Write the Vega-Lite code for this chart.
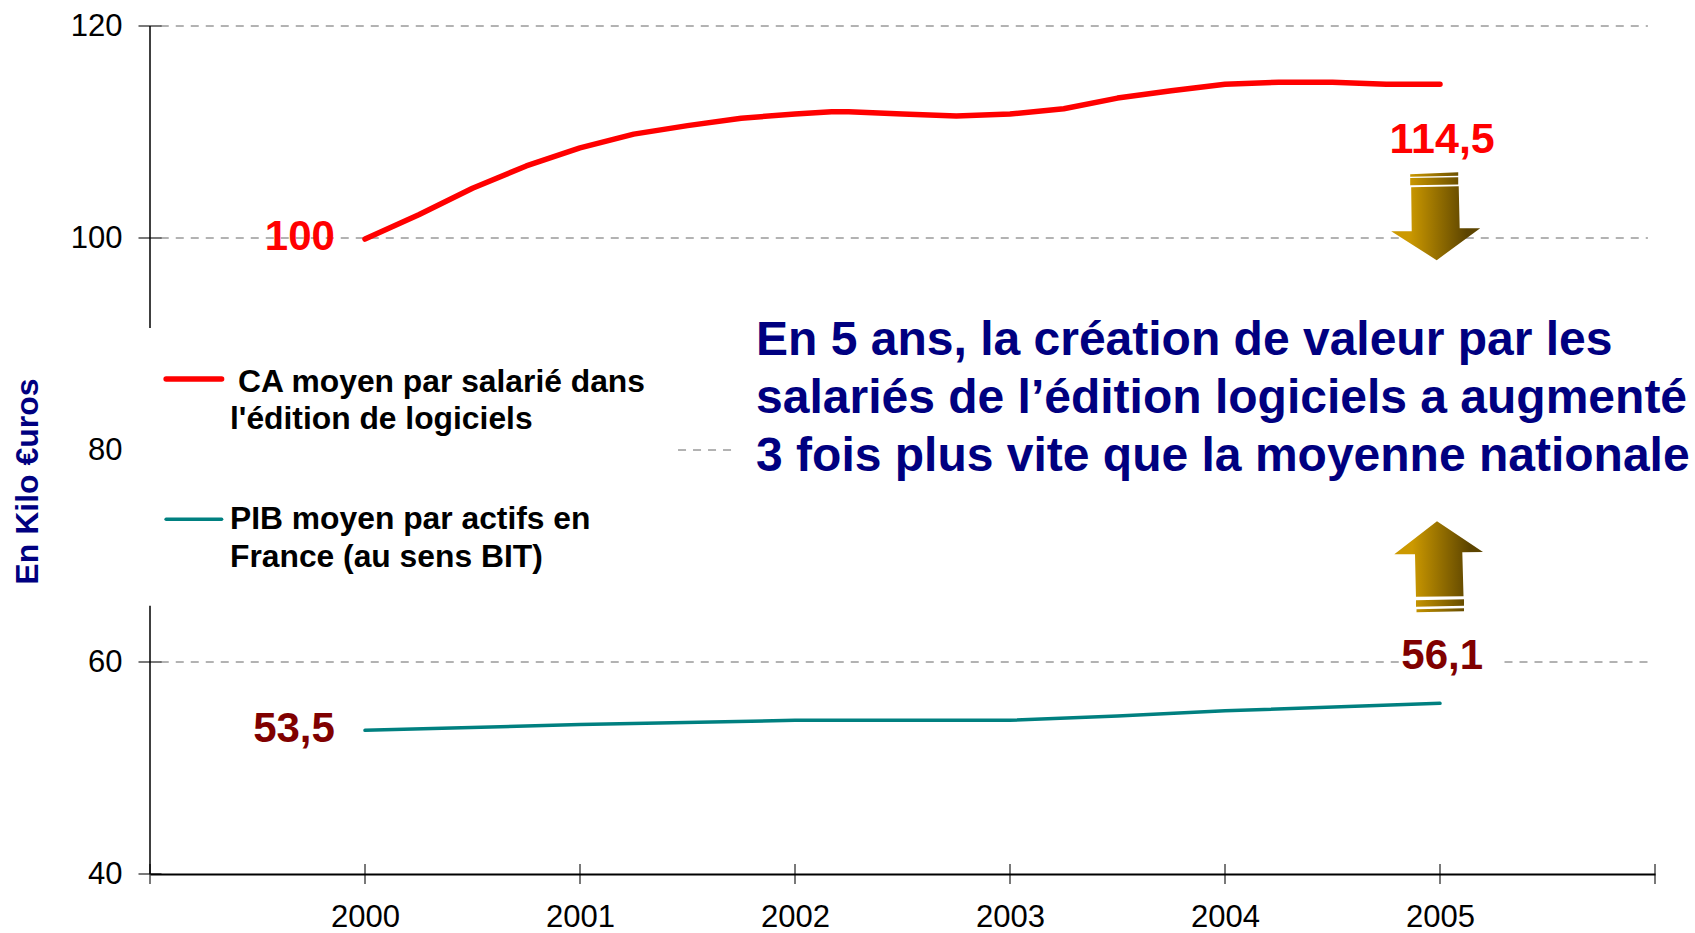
{"$schema":"https://vega.github.io/schema/vega-lite/v6.json","autosize":{"type":"none"},"padding":{"left":150,"top":26,"right":40,"bottom":59},"width":1505,"height":848,"background":"white","config":{"view":{"stroke":null},"text":{"font":"Liberation Sans"}},
"encoding":{"x":{"field":"year","type":"quantitative","title":null,"scale":{"domain":[1999,2006],"nice":false,"zero":false},"axis":{"values":[2000,2001,2002,2003,2004,2005],"format":"d","grid":false,"ticks":false,"domain":true,"domainColor":"#000","domainWidth":2,"labelFont":"Liberation Sans","labelFontSize":31,"labelColor":"#000","labelPadding":28,"labelFlush":false}},
"y":{"field":"value","type":"quantitative","title":"En Kilo €uros","scale":{"domain":[40,120],"nice":false,"zero":false},"axis":{"values":[40,60,80,100,120],"grid":false,"ticks":false,"domain":false,"labelFont":"Liberation Sans","labelFontSize":31,"labelColor":"#000","labelPadding":28,"titleFont":"Liberation Sans","titleFontWeight":"bold","titleFontSize":32,"titleColor":"#000080","titleAngle":270,"titleX":-123,"titleY":455,"titleAlign":"center","titleBaseline":"middle"}}},
"layer":[
{"data":{"values":[{"year":1999.05,"x2":2005.967,"value":120},{"year":1999.05,"x2":2005.967,"value":100},{"year":2001.456,"x2":2001.72,"value":80},{"year":1999.05,"x2":2004.86,"value":60},{"year":2005.3,"x2":2005.967,"value":60}]},"mark":{"type":"rule","color":"#666666","strokeWidth":1,"strokeDash":[8,7]},"encoding":{"x2":{"field":"x2"}}},
{"data":{"values":[{"year":1999,"value":120,"y2":91.5},{"year":1999,"value":65.3,"y2":40}]},"mark":{"type":"rule","color":"#000","strokeWidth":1.5},"encoding":{"y2":{"field":"y2"}}},
{"data":{"values":[{"year":1999,"value":40},{"year":1999,"value":60},{"year":1999,"value":100},{"year":1999,"value":120}]},"mark":{"type":"tick","orient":"horizontal","size":23,"thickness":1.5,"color":"#000"}},
{"data":{"values":[{"year":1999,"value":40},{"year":2000,"value":40},{"year":2001,"value":40},{"year":2002,"value":40},{"year":2003,"value":40},{"year":2004,"value":40},{"year":2005,"value":40},{"year":2006,"value":40}]},"mark":{"type":"tick","orient":"vertical","size":20,"thickness":1.5,"color":"#000"}},
{"data":{"values":[{"year":2000,"value":99.9},{"year":2000.25,"value":102.2},{"year":2000.5,"value":104.7},{"year":2000.75,"value":106.8},{"year":2001,"value":108.5},{"year":2001.25,"value":109.8},{"year":2001.5,"value":110.6},{"year":2001.75,"value":111.3},{"year":2002,"value":111.7},{"year":2002.17,"value":111.9},{"year":2002.25,"value":111.9},{"year":2002.5,"value":111.7},{"year":2002.75,"value":111.5},{"year":2003,"value":111.7},{"year":2003.25,"value":112.2},{"year":2003.5,"value":113.2},{"year":2003.75,"value":113.9},{"year":2004,"value":114.5},{"year":2004.25,"value":114.7},{"year":2004.5,"value":114.7},{"year":2004.75,"value":114.5},{"year":2005,"value":114.5}]},"mark":{"type":"line","color":"#FF0000","strokeWidth":5.5,"strokeCap":"round","strokeJoin":"round"}},
{"data":{"values":[{"year":2000,"value":53.55},{"year":2001,"value":54.1},{"year":2002,"value":54.5},{"year":2003,"value":54.5},{"year":2003.5,"value":54.9},{"year":2004,"value":55.4},{"year":2005,"value":56.1}]},"mark":{"type":"line","color":"#008080","strokeWidth":3.5,"strokeCap":"round"}},
{"data":{"values":[{"year":1999.075,"x2":1999.333,"value":86.7}]},"mark":{"type":"rule","color":"#FF0000","strokeWidth":5.5,"strokeCap":"round"},"encoding":{"x2":{"field":"x2"}}},
{"data":{"values":[{"year":1999.075,"x2":1999.333,"value":73.46}]},"mark":{"type":"rule","color":"#008080","strokeWidth":3.5,"strokeCap":"round"},"encoding":{"x2":{"field":"x2"}}},
{"data":{"values":[{"year":1999.409,"value":86.44,"t":"CA moyen par salarié dans"},{"year":1999.372,"value":82.9,"t":"l'édition de logiciels"},{"year":1999.372,"value":73.46,"t":"PIB moyen par actifs en"},{"year":1999.372,"value":69.87,"t":"France (au sens BIT)"}]},"mark":{"type":"text","font":"Liberation Sans","fontWeight":"bold","fontSize":31.8,"color":"#000","align":"left","baseline":"middle"},"encoding":{"text":{"field":"t"}}},
{"data":{"values":[{"year":2001.819,"value":90.25,"t":"En 5 ans, la création de valeur par les"},{"year":2001.819,"value":84.78,"t":"salariés de l’édition logiciels a augmenté"},{"year":2001.819,"value":79.3,"t":"3 fois plus vite que la moyenne nationale"}]},"mark":{"type":"text","font":"Liberation Sans","fontWeight":"bold","fontSize":48,"color":"#000080","align":"left","baseline":"middle"},"encoding":{"text":{"field":"t"}}},
{"data":{"values":[{"year":1999.86,"value":100.1,"t":"100"}]},"mark":{"type":"text","fontWeight":"bold","fontSize":42,"color":"#FF0000","align":"right","baseline":"middle"},"encoding":{"text":{"field":"t"}}},
{"data":{"values":[{"year":2005.01,"value":109.2,"t":"114,5"}]},"mark":{"type":"text","fontWeight":"bold","fontSize":43,"color":"#FF0000","align":"center","baseline":"middle"},"encoding":{"text":{"field":"t"}}},
{"data":{"values":[{"year":1999.86,"value":53.7,"t":"53,5"}]},"mark":{"type":"text","fontWeight":"bold","fontSize":42,"color":"#800000","align":"right","baseline":"middle"},"encoding":{"text":{"field":"t"}}},
{"data":{"values":[{"year":2005.01,"value":60.55,"t":"56,1"}]},"mark":{"type":"text","fontWeight":"bold","fontSize":42,"color":"#800000","align":"center","baseline":"middle"},"encoding":{"text":{"field":"t"}}},
{"data":{"values":[{"year":2004.98,"value":102.06}]},"mark":{"type":"point","filled":true,"opacity":1,"size":7921,"strokeWidth":0,"shape":"M-.573 -.944L.506 -.989L.506 -.91L-.573 -.888Z M-.573 -.86L.506 -.874L.506 -.71L-.573 -.697Z M-.551 -.652L.517 -.674L.539 .27L1 .27L.022 .989L-1 .337L-.539 .337Z","fill":{"gradient":"linear","x1":0,"y1":0,"x2":1,"y2":0,"stops":[{"offset":0.2,"color":"#CC9900"},{"offset":0.85,"color":"#5C4400"}]}}},
{"data":{"values":[{"year":2004.993,"value":68.98}]},"mark":{"type":"point","filled":true,"opacity":1,"size":7921,"strokeWidth":0,"shape":"M-.034 -1.022L1 -.333L.535 -.326L.562 .663L-.506 .674L-.528 -.281L-.993 -.281Z M-.506 .753L.573 .73L.573 .876L-.506 .899Z M-.494 .955L.573 .933L.573 1L-.494 1.022Z","fill":{"gradient":"linear","x1":0,"y1":0,"x2":1,"y2":0,"stops":[{"offset":0.2,"color":"#CC9900"},{"offset":0.85,"color":"#5C4400"}]}}}
]}
